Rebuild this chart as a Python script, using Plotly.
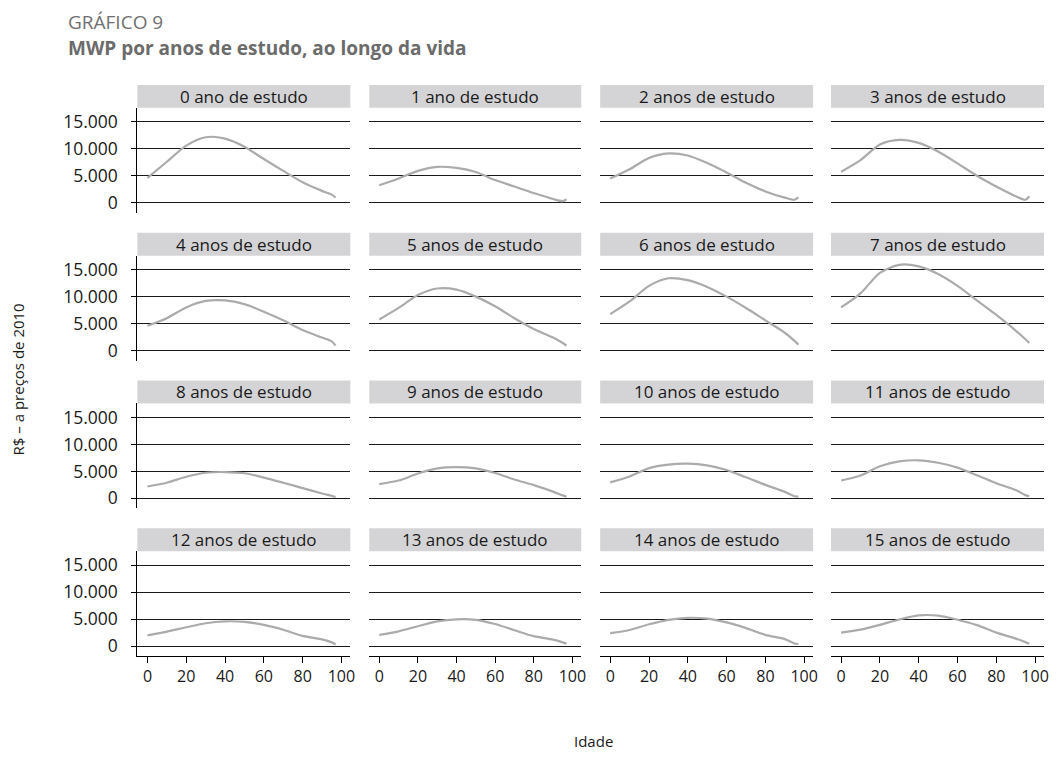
import plotly.graph_objects as go

# Idade (anos) em que cada curva foi lida no gráfico
idades = [0, 10, 20, 30, 40, 50, 60, 70, 80, 90, 95, 97]

# MWP (R$ a preços de 2010), um painel por anos de estudo
mwp_0 = [4600, 7600, 10600, 12150, 11900, 10400, 8100, 5900, 3800, 2200, 1500, 950]
mwp_1 = [3250, 4500, 5900, 6650, 6450, 5700, 4200, 3000, 1800, 700, 310, 650]
mwp_2 = [4500, 6200, 8300, 9150, 8750, 7350, 5600, 3700, 2100, 950, 550, 1000]
mwp_3 = [5750, 7900, 10800, 11650, 11100, 9500, 7300, 5000, 3000, 1200, 550, 1200]
mwp_4 = [4600, 6000, 8000, 9200, 9300, 8600, 7200, 5600, 3800, 2400, 1700, 900]
mwp_5 = [5750, 7900, 10300, 11500, 11300, 10000, 8200, 6000, 4000, 2400, 1400, 900]
mwp_6 = [6750, 9100, 12000, 13400, 13050, 11800, 10000, 7900, 5600, 3300, 1800, 1100]
mwp_7 = [8000, 10600, 14400, 15900, 15600, 14200, 12000, 9300, 6600, 3700, 2100, 1400]
mwp_8 = [2200, 2900, 4000, 4750, 4880, 4650, 3850, 2900, 1900, 900, 450, 250]
mwp_9 = [2650, 3300, 4600, 5550, 5800, 5550, 4700, 3500, 2450, 1250, 550, 300]
mwp_10 = [2950, 4050, 5600, 6250, 6420, 6100, 5250, 3900, 2500, 1200, 400, 300]
mwp_11 = [3300, 4250, 5950, 6850, 7050, 6600, 5700, 4300, 2800, 1550, 600, 400]
mwp_12 = [2000, 2700, 3500, 4250, 4600, 4500, 3950, 3050, 1900, 1250, 700, 300]
mwp_13 = [2100, 2750, 3700, 4600, 4980, 4880, 4100, 2950, 1850, 1200, 700, 450]
mwp_14 = [2400, 3000, 4050, 4880, 5250, 5100, 4400, 3350, 2100, 1300, 500, 400]
mwp_15 = [2500, 3050, 3950, 4950, 5700, 5650, 4900, 3900, 2500, 1400, 750, 450]

series = [mwp_0, mwp_1, mwp_2, mwp_3, mwp_4, mwp_5, mwp_6, mwp_7,
          mwp_8, mwp_9, mwp_10, mwp_11, mwp_12, mwp_13, mwp_14, mwp_15]
titulos = ["0 ano de estudo", "1 ano de estudo"] + [f"{i} anos de estudo" for i in range(2, 16)]

y_ticks = [0, 5000, 10000, 15000]
y_labels = ["0", "5.000", "10.000", "15.000"]
x_ticks = [0, 20, 40, 60, 80, 100]

# page body has an 8px margin, so the figure is shrunk to fit the window
PAGE_W, PAGE_H, BODY = 1057, 762, 8
W, H = PAGE_W - 2 * BODY, PAGE_H - 2 * BODY
COL_X = [(138, 352), (371, 584), (603, 817), (835, 1049)]
ROW_TOP = [108, 256, 404, 552]
ROW_H = 105
STRIP_H = 23
FONT = "Open Sans"
TXT = "#1a1a1a"


def px_x(v):
    return (v - BODY) / W


def px_y(v):
    return 1 - (v - BODY) / H


fig = go.Figure()
layout = {}
shapes = []
annotations = []

for k, vals in enumerate(series):
    r, c = divmod(k, 4)
    n = k + 1
    xa = f"xaxis{n if n > 1 else ''}"
    ya = f"yaxis{n if n > 1 else ''}"
    fig.add_trace(go.Scatter(
        x=idades, y=vals, mode="lines", xaxis=f"x{n}", yaxis=f"y{n}",
        line=dict(color="#ababab", width=2.2, shape="spline", smoothing=0.8),
        showlegend=False, hoverinfo="skip",
    ))
    x0, x1 = COL_X[c]
    top = ROW_TOP[r]
    bottom = top + ROW_H
    bottom_row = r == 3
    layout[xa] = dict(
        domain=[px_x(x0), px_x(x1)], range=[-5.2, 104.6], anchor=f"y{n}",
        showgrid=False, zeroline=False,
        showline=bottom_row, linecolor="black", linewidth=1,
        ticks="outside" if bottom_row else "", ticklen=6, tickcolor="black",
        tickvals=x_ticks, showticklabels=bottom_row,
        tickfont=dict(family=FONT, size=16, color=TXT),
    )
    layout[ya] = dict(
        domain=[px_y(bottom), px_y(top)], range=[-1852, 17593], anchor=f"x{n}",
        tickvals=y_ticks, ticktext=y_labels,
        showgrid=True, gridcolor="#1a1a1a", gridwidth=1, zeroline=False,
        showline=c == 0, linecolor="black", linewidth=1,
        ticks="outside" if c == 0 else "", ticklen=5, tickcolor="black",
        showticklabels=c == 0, ticklabelstandoff=10,
        tickfont=dict(family=FONT, size=17.5, color=TXT),
    )
    shapes.append(dict(
        type="rect", xref="paper", yref="paper", layer="below",
        x0=px_x(x0), x1=px_x(x1), y0=px_y(top), y1=px_y(top - STRIP_H),
        fillcolor="#d4d4d6", line=dict(width=0),
    ))
    annotations.append(dict(
        text=titulos[k], xref="paper", yref="paper",
        x=px_x((x0 + x1) / 2), y=px_y(top - STRIP_H / 2),
        xanchor="center", yanchor="middle", showarrow=False,
        font=dict(family=FONT, size=17, color=TXT),
    ))

annotations += [
    dict(text="GRÁFICO 9", xref="paper", yref="paper", x=px_x(66), y=px_y(22),
         xanchor="left", yanchor="middle", showarrow=False,
         font=dict(family=FONT, size=19, color="#707070")),
    dict(text="<b>MWP por anos de estudo, ao longo da vida</b>", xref="paper", yref="paper",
         x=px_x(66), y=px_y(48), xanchor="left", yanchor="middle", showarrow=False,
         font=dict(family=FONT, size=19, color="#6b6b6b")),
    dict(text="R$ – a preços de 2010", xref="paper", yref="paper", x=px_x(18), y=px_y(380),
         xanchor="center", yanchor="middle", textangle=-90, showarrow=False,
         font=dict(family=FONT, size=15, color=TXT)),
    dict(text="Idade", xref="paper", yref="paper", x=px_x(596), y=px_y(742),
         xanchor="center", yanchor="middle", showarrow=False,
         font=dict(family=FONT, size=15, color=TXT)),
]

fig.update_layout(
    width=W, height=H, margin=dict(l=0, r=0, t=0, b=0),
    paper_bgcolor="white", plot_bgcolor="white",
    shapes=shapes, annotations=annotations, **layout,
)

fig.write_html("out.html")
